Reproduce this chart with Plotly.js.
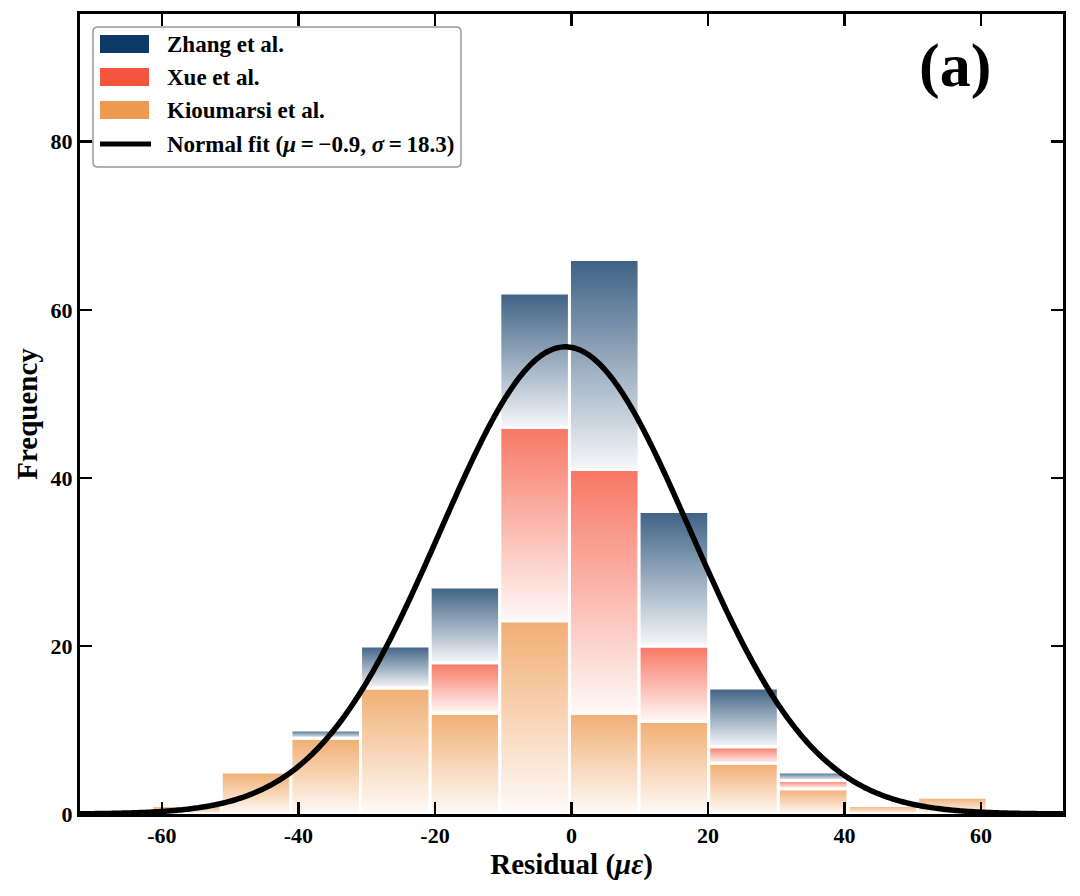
<!DOCTYPE html>
<html>
<head>
<meta charset="utf-8">
<script src="https://cdn.plot.ly/plotly-3.0.1.min.js"></script>
<style>
  body { margin: 0; background: #fff; }
  #chart { width: 1080px; height: 896px; }
</style>
</head>
<body>
<div id="chart"></div>
<script>
// histogram bins (residual, microstrain)
var binEdges = [-61.5, -51.3, -41.1, -30.9, -20.7, -10.5, -0.3, 9.9, 20.1, 30.3, 40.5, 50.7, 60.9];

// stacked counts per bin, bottom to top
var kioumarsi = [1, 5, 9, 15, 12, 23, 12, 11, 6, 3, 1, 2];
var xue       = [0, 0, 0, 0, 6, 23, 29, 9, 2, 1, 0, 0];
var zhang     = [0, 0, 1, 5, 9, 16, 25, 16, 7, 1, 0, 0];

var seriesNames = ['Zhang et al.', 'Xue et al.', 'Kioumarsi et al.'];
var fitLabel = 'Normal fit (<i>μ</i>\u2009=\u2009−0.9, <i>σ</i>\u2009=\u200918.3)';
var fitMu = -0.9;
var fitSigma = 18.3;

var xTickVals = [-60, -40, -20, 0, 20, 40, 60];
var xTickText = ['-60', '-40', '-20', '0', '20', '40', '60'];
var yTickVals = [0, 20, 40, 60, 80];

var FONT = 'Liberation Serif, Times New Roman, serif';
var rgbZhang = [13, 58, 102];
var rgbXue = [245, 85, 60];
var rgbKiou = [238, 154, 80];

function rgba(c, a) { return 'rgba(' + c[0] + ',' + c[1] + ',' + c[2] + ',' + a + ')'; }

var stack = [
  {vals: kioumarsi, col: rgbKiou},
  {vals: xue, col: rgbXue},
  {vals: zhang, col: rgbZhang}
];

var data = [];
for (var i = 0; i < binEdges.length - 1; i++) {
  var l = binEdges[i], r = binEdges[i + 1];
  var base = 0;
  stack.forEach(function (s) {
    var v = s.vals[i];
    if (v <= 0) return;
    var top = base + v;
    data.push({
      x: [l, r, r, l, l],
      y: [base, base, top, top, base],
      type: 'scatter',
      mode: 'lines',
      fill: 'toself',
      line: {color: 'white', width: 3},
      fillgradient: {
        type: 'vertical',
        start: base,
        stop: top,
        colorscale: [[0, rgba(s.col, 0.04)], [1, rgba(s.col, 0.8)]]
      },
      showlegend: false,
      hoverinfo: 'skip'
    });
    base = top;
  });
}

// fitted normal curve scaled to counts
var total = 0;
for (var k = 0; k < kioumarsi.length; k++) total += kioumarsi[k] + xue[k] + zhang[k];
var binWidth = (binEdges[binEdges.length - 1] - binEdges[0]) / (binEdges.length - 1);
var fx = [], fy = [];
for (var n = 0; n <= 576; n++) {
  var x = -72 + n * 0.25;
  fx.push(x);
  var z = (x - fitMu) / fitSigma;
  fy.push(total * binWidth / (fitSigma * Math.sqrt(2 * Math.PI)) * Math.exp(-0.5 * z * z));
}
data.push({
  x: fx, y: fy, type: 'scatter', mode: 'lines',
  line: {color: 'black', width: 5.5, simplify: false},
  showlegend: false, hoverinfo: 'skip'
});

// legend drawn by hand (wide patches, rounded box)
var L = 80, R = 1063, T = 14, B = 814;
function px(v) { return (v - L) / (R - L); }
function py(v) { return (B - v) / (B - T); }

function roundRect(x0, y0, x1, y1, rad) {
  var rx = rad / (R - L), ry = rad / (B - T);
  var a = px(x0), b = px(x1), c = py(y0), d = py(y1);
  return 'M' + (a + rx) + ',' + c + ' L' + (b - rx) + ',' + c +
    ' Q' + b + ',' + c + ' ' + b + ',' + (c - ry) +
    ' L' + b + ',' + (d + ry) + ' Q' + b + ',' + d + ' ' + (b - rx) + ',' + d +
    ' L' + (a + rx) + ',' + d + ' Q' + a + ',' + d + ' ' + a + ',' + (d + ry) +
    ' L' + a + ',' + (c - ry) + ' Q' + a + ',' + c + ' ' + (a + rx) + ',' + c + ' Z';
}

var shapes = [{
  type: 'path', xref: 'paper', yref: 'paper',
  path: roundRect(93, 27, 461, 167, 5),
  fillcolor: 'rgba(255,255,255,0.85)',
  line: {color: '#999999', width: 1.5}
}];
var patchCols = [rgbZhang, rgbXue, rgbKiou];
var patchTops = [35, 68, 101];
patchCols.forEach(function (c, j) {
  shapes.push({
    type: 'rect', xref: 'paper', yref: 'paper',
    x0: px(100), x1: px(149), y0: py(patchTops[j]), y1: py(patchTops[j] + 18),
    fillcolor: rgba(c, 1), line: {width: 0}
  });
});
shapes.push({
  type: 'line', xref: 'paper', yref: 'paper',
  x0: px(100), x1: px(151), y0: py(144), y1: py(144),
  line: {color: 'black', width: 5}
});

var labelY = [45, 78, 111, 145];
var labels = seriesNames.concat([fitLabel]);
var annotations = labels.map(function (t, j) {
  return {
    text: t, xref: 'paper', yref: 'paper', x: px(165), y: py(labelY[j]),
    xanchor: 'left', yanchor: 'middle', showarrow: false,
    font: {family: FONT, size: 23, color: 'black', weight: 'bold'}
  };
});
annotations.push({
  text: '(a)', xref: 'paper', yref: 'paper', x: px(955), y: py(66),
  xanchor: 'center', yanchor: 'middle', showarrow: false,
  font: {family: FONT, size: 62, color: 'black', weight: 'bold'}
});

var axisCommon = {
  showline: true, linecolor: 'black', linewidth: 3, mirror: 'ticks',
  ticks: 'inside', ticklen: 12, tickwidth: 2.5, tickcolor: 'black',
  showgrid: false, zeroline: false,
  tickfont: {family: FONT, size: 22, color: 'black', weight: 'bold'}
};

var layout = {
  width: 1080, height: 896,
  margin: {l: 80, r: 17, t: 14, b: 82},
  paper_bgcolor: 'white', plot_bgcolor: 'white',
  showlegend: false,
  xaxis: Object.assign({}, axisCommon, {
    range: [-72, 72], tickvals: xTickVals, ticktext: xTickText,
    title: {text: 'Residual (<i>με</i>)', standoff: 6,
      font: {family: FONT, size: 29, color: 'black', weight: 'bold'}}
  }),
  yaxis: Object.assign({}, axisCommon, {
    range: [0, 95.2], tickvals: yTickVals,
    title: {text: 'Frequency', standoff: 5,
      font: {family: FONT, size: 29, color: 'black', weight: 'bold'}}
  }),
  shapes: shapes,
  annotations: annotations
};

Plotly.newPlot('chart', data, layout, {displayModeBar: false, staticPlot: true});
</script>
</body>
</html>
